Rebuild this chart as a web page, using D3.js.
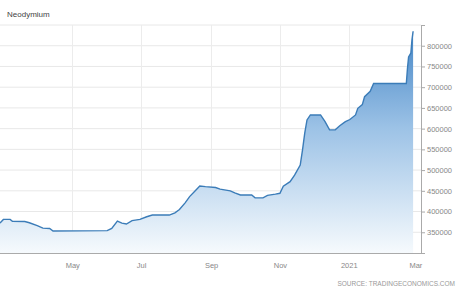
<!DOCTYPE html>
<html>
<head>
<meta charset="utf-8">
<script src="https://cdn.jsdelivr.net/npm/d3@7"></script>
<style>
  body { margin: 0; background: #fff; }
  #chart { width: 457px; height: 287px; }
  text { font-family: "Liberation Sans", Arial, sans-serif; }
</style>
</head>
<body>
<div id="chart"></div>
<script>
//Datos
const fechas = ['2020-02-27','2020-03-01','2020-03-07','2020-03-09','2020-03-20','2020-03-24','2020-03-31',
  '2020-04-05','2020-04-11','2020-04-14','2020-06-01','2020-06-05','2020-06-10','2020-06-14','2020-06-18',
  '2020-06-23','2020-06-30','2020-07-06','2020-07-11','2020-07-26','2020-07-31','2020-08-04','2020-08-09',
  '2020-08-13','2020-08-18','2020-08-22','2020-08-27','2020-09-05','2020-09-09','2020-09-18','2020-09-22',
  '2020-09-27','2020-10-07','2020-10-10','2020-10-17','2020-10-21','2020-10-28','2020-11-01','2020-11-04',
  '2020-11-10','2020-11-14','2020-11-19','2020-11-21','2020-11-23','2020-11-25','2020-11-28','2020-12-07',
  '2020-12-11','2020-12-15','2020-12-20','2020-12-24','2020-12-29','2021-01-02','2021-01-07','2021-01-09',
  '2021-01-13','2021-01-15','2021-01-20','2021-01-23','2021-02-21','2021-02-22','2021-02-23','2021-02-25',
  '2021-02-26','2021-02-27'];
const precios = [372000,381000,381000,376500,376000,373000,366000,
  360000,359000,353000,354000,359500,377000,372000,370000,
  378000,381000,387500,391600,391600,397000,405000,421000,
  436000,450000,461600,460000,458000,454000,450000,445000,
  440000,440000,433000,433000,439000,442000,444000,461000,
  472000,488000,512000,548000,589000,621000,633000,633000,
  617000,597000,597000,607000,617000,622000,633000,649000,
  658000,677000,690000,709000,709000,745000,773000,782000,
  814000,835000];
const yTicks = [300000,350000,400000,450000,500000,550000,600000,650000,700000,750000,800000,850000];
const xTickFechas = ['2020-05-01','2020-07-01','2020-09-01','2020-11-01','2021-01-01','2021-03-01'];
const xTickLabels = ['May','Jul','Sep','Nov','2021','Mar'];

const parse = d3.timeParse('%Y-%m-%d');
const data = fechas.map((f, i) => ({date: parse(f), value: precios[i]}));

let margin = {top: 25, right: 36, bottom: 34, left: 0},
    width = 457 - margin.left - margin.right,
    height = 287 - margin.top - margin.bottom;

let svg = d3.select('#chart').append('svg')
    .attr('width', 457).attr('height', 287);

let g = svg.append('g')
    .attr('transform', 'translate(' + margin.left + ',' + margin.top + ')');

let x = d3.scaleTime()
    .domain([parse('2020-02-27'), parse('2021-03-06')])
    .range([0, width]);

let y = d3.scaleLinear()
    .domain([300000, 850000])
    .range([height, 0]);

//Rejilla
g.append('g').selectAll('line').data(yTicks.slice(1)).enter().append('line')
    .attr('x1', 0).attr('x2', width)
    .attr('y1', d => y(d)).attr('y2', d => y(d))
    .attr('stroke', '#e8e8e8').attr('stroke-width', 1);

g.append('g').selectAll('line').data(xTickFechas.slice(0, 5)).enter().append('line')
    .attr('x1', d => Math.round(x(parse(d))) + 0.5).attr('x2', d => Math.round(x(parse(d))) + 0.5)
    .attr('y1', 0).attr('y2', height)
    .attr('stroke', '#ececec').attr('stroke-width', 1);

//Degradado
let defs = svg.append('defs');
let grad = defs.append('linearGradient')
    .attr('id', 'areaGrad')
    .attr('gradientUnits', 'userSpaceOnUse')
    .attr('x1', 0).attr('x2', 0)
    .attr('y1', y(850000)).attr('y2', y(300000));
grad.append('stop').attr('offset', '0%').attr('stop-color', '#3f82c4');
grad.append('stop').attr('offset', '45%').attr('stop-color', '#9cc2e6');
grad.append('stop').attr('offset', '100%').attr('stop-color', '#f6fafd');

let area = d3.area()
    .x(d => x(d.date))
    .y0(height)
    .y1(d => y(d.value));

let line = d3.line()
    .x(d => x(d.date))
    .y(d => y(d.value));

g.append('path').datum(data)
    .attr('d', area)
    .attr('fill', 'url(#areaGrad)');

g.append('path').datum(data)
    .attr('d', line)
    .attr('fill', 'none')
    .attr('stroke', '#3b7cb8')
    .attr('stroke-width', 1.4);

//Eje X
let xAxis = g.append('g')
    .attr('transform', 'translate(0,' + height + ')')
    .call(d3.axisBottom(x)
        .tickValues(xTickFechas.map(parse))
        .tickFormat((d, i) => xTickLabels[i])
        .tickSize(0)
        .tickPadding(10));
xAxis.select('.domain').attr('stroke', '#aaa').attr('d', 'M0,0.5H' + (width + 4));
xAxis.selectAll('text').attr('fill', '#888').attr('font-size', '7.5px');

//Eje Y (derecha)
let yAxis = g.append('g')
    .attr('transform', 'translate(' + width + ',0)')
    .call(d3.axisRight(y)
        .tickValues(yTicks)
        .tickFormat(d => (d === 300000 || d === 850000) ? '' : d)
        .tickSize(4)
        .tickPadding(2));
yAxis.select('.domain').attr('stroke', '#aaa');
yAxis.selectAll('.tick line').attr('stroke', '#aaa');
yAxis.selectAll('text').attr('fill', '#888').attr('font-size', '7.5px');

//Titulo y fuente
svg.append('text')
    .attr('x', 7).attr('y', 17)
    .attr('fill', '#444').attr('font-size', '8px')
    .text('Neodymium');

svg.append('text')
    .attr('x', 455).attr('y', 286)
    .attr('text-anchor', 'end')
    .attr('fill', '#999').attr('font-size', '6.5px')
    .text('SOURCE: TRADINGECONOMICS.COM');
</script>
</body>
</html>
